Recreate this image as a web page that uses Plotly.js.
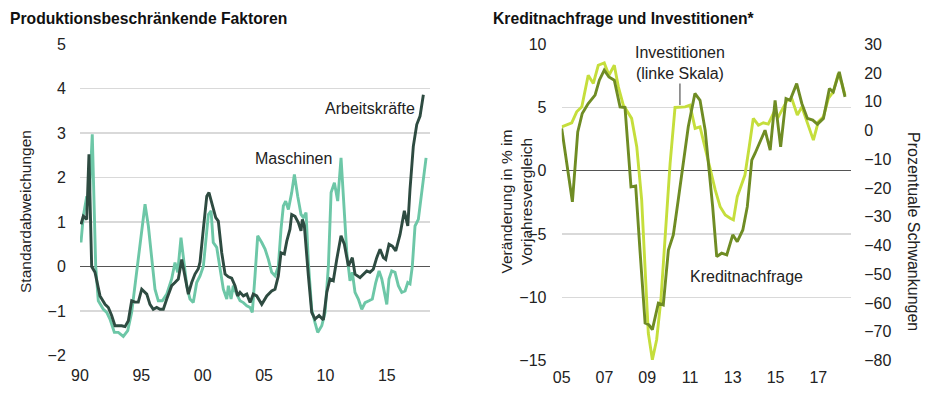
<!DOCTYPE html>
<html>
<head>
<meta charset="utf-8">
<script src="https://cdn.plot.ly/plotly-3.0.1.min.js"></script>
<style>
  html, body { margin: 0; padding: 0; background: #fff; }
  #chart { width: 940px; height: 398px; }
</style>
</head>
<body>
<div id="chart"></div>
<script>
// ---- Left panel: Produktionsbeschränkende Faktoren (Standardabweichungen) ----
const arbeitYears = [1990.08,1990.27,1990.55,1990.73,1990.95,1991.22,1991.63,1992.04,1992.31,1992.58,1992.85,1993.40,1993.67,1993.94,1994.21,1994.48,1994.75,1995.03,1995.44,1995.70,1995.97,1996.25,1996.52,1996.79,1997.07,1997.47,1997.74,1998.01,1998.29,1998.56,1998.83,1999.10,1999.37,1999.64,1999.78,2000.05,2000.33,2000.51,2000.86,2001.06,2001.27,2001.55,2001.82,2002.09,2002.36,2002.63,2002.85,2003.04,2003.31,2003.59,2003.86,2004.12,2004.40,2004.81,2005.22,2005.62,2005.89,2006.16,2006.38,2006.65,2006.85,2007.11,2007.25,2007.52,2007.79,2008.01,2008.12,2008.28,2008.61,2008.88,2009.15,2009.48,2009.83,2010.11,2010.37,2010.64,2010.92,2011.27,2011.54,2011.87,2012.19,2012.41,2012.82,2013.09,2013.37,2013.63,2013.90,2014.18,2014.45,2014.72,2014.91,2015.18,2015.45,2015.73,2016.08,2016.43,2016.71,2016.89,2017.16,2017.44,2017.71,2017.98];
const arbeitValues = [0.95,1.13,1.06,2.52,0.00,-0.13,-0.66,-0.85,-0.92,-1.10,-1.33,-1.33,-1.35,-1.22,-0.77,-0.80,-0.80,-0.51,-0.62,-0.85,-0.96,-0.92,-0.96,-0.96,-0.73,-0.43,-0.36,-0.28,0.16,-0.28,-0.62,-0.36,-0.17,-0.05,0.10,0.84,1.58,1.66,1.28,1.10,1.02,0.31,-0.17,-0.23,-0.26,-0.43,-0.66,-0.58,-0.66,-0.62,-0.81,-0.62,-0.66,-0.85,-0.66,-0.55,-0.51,-0.21,0.31,0.28,0.57,0.84,1.17,1.13,0.99,0.80,1.06,0.92,-0.21,-1.03,-1.18,-1.10,-1.20,-0.58,-0.28,-0.32,0.16,0.69,0.50,0.01,0.20,-0.17,-0.25,-0.17,-0.10,-0.13,-0.06,0.20,0.39,0.20,0.16,0.50,0.46,0.35,0.72,1.25,0.91,1.73,2.70,3.19,3.38,3.86];

const maschYears = [1990.08,1990.27,1990.55,1990.73,1991.00,1991.17,1991.28,1991.49,1991.90,1992.18,1992.44,1992.80,1993.12,1993.53,1993.89,1994.21,1994.48,1994.75,1995.03,1995.30,1995.57,1995.84,1996.11,1996.38,1996.71,1997.07,1997.47,1997.74,1997.96,1998.23,1998.42,1998.70,1998.96,1999.23,1999.51,1999.78,2000.05,2000.19,2000.46,2000.68,2000.86,2001.14,2001.41,2001.68,2001.96,2002.09,2002.31,2002.49,2002.77,2003.04,2003.31,2003.59,2003.86,2004.04,2004.26,2004.48,2004.81,2005.08,2005.35,2005.62,2005.89,2006.16,2006.38,2006.57,2006.76,2006.98,2007.25,2007.47,2007.74,2008.01,2008.20,2008.42,2008.61,2008.88,2009.15,2009.37,2009.70,2009.97,2010.24,2010.46,2010.73,2011.00,2011.27,2011.46,2011.74,2012.00,2012.19,2012.41,2012.68,2012.96,2013.23,2013.55,2013.82,2014.10,2014.37,2014.59,2014.86,2015.00,2015.18,2015.40,2015.67,2015.94,2016.22,2016.49,2016.71,2016.89,2017.08,2017.30,2017.57,2017.85,2018.20];
const maschValues = [0.54,1.13,1.58,1.36,2.97,1.06,0.00,-0.77,-0.96,-1.03,-1.18,-1.48,-1.48,-1.57,-1.44,-1.03,-0.43,0.16,0.84,1.40,0.91,0.16,-0.51,-0.77,-0.77,-0.62,-0.28,0.09,-0.13,0.65,0.20,-0.43,-0.73,-0.81,-0.36,-0.21,0.00,0.46,1.17,1.25,0.54,0.43,0.00,-0.51,-0.73,-0.43,-0.73,-0.43,-0.62,-0.77,-0.81,-0.88,-0.92,-1.03,-0.21,0.69,0.54,0.39,0.16,-0.13,-0.21,0.00,0.84,1.36,1.47,1.28,1.66,2.07,1.58,1.17,1.10,1.21,0.09,-0.96,-1.26,-1.48,-1.33,-1.03,0.01,1.66,1.88,1.47,2.44,1.51,0.31,-0.32,-0.13,-0.58,-0.73,-0.96,-0.81,-0.77,-0.73,-0.36,-0.10,-0.28,-0.66,-0.85,-0.28,-0.10,-0.13,-0.43,-0.58,-0.55,-0.36,-0.39,0.01,0.91,1.06,1.66,2.44];

const leftTickVals = [1990,1995,2000,2005,2010,2015];
const leftTickText = ["90","95","00","05","10","15"];

// ---- Right panel: Kreditnachfrage und Investitionen* ----
const investYears = [2005.00,2005.23,2005.47,2005.70,2005.94,2006.24,2006.48,2006.71,2006.99,2007.21,2007.46,2007.65,2007.88,2008.27,2008.51,2008.74,2008.90,2009.05,2009.24,2009.44,2009.64,2009.83,2010.07,2010.30,2010.53,2010.77,2011.00,2011.24,2011.47,2011.71,2011.94,2012.18,2012.41,2012.65,2012.88,2013.03,2013.21,2013.42,2013.57,2013.77,2013.96,2014.20,2014.43,2014.66,2014.90,2015.13,2015.36,2015.55,2015.76,2016.02,2016.23,2016.46,2016.77,2017.00,2017.24,2017.47,2017.70,2017.94,2018.10,2018.25];
const investValues = [3.47,3.60,3.79,4.66,5.05,7.55,6.90,8.34,8.52,7.55,8.34,6.63,5.19,4.14,1.90,-2.31,-7.58,-12.83,-14.94,-13.36,-10.20,-5.21,0.58,5.00,5.03,5.05,5.19,3.35,3.47,1.80,0.06,-1.52,-2.84,-3.50,-3.76,-3.89,-2.05,-1.00,-0.34,1.90,4.14,3.60,3.79,3.69,4.53,4.26,4.92,5.58,5.71,4.40,5.05,4.00,2.42,3.87,4.26,5.71,6.24,7.69,6.90,5.97];

const kreditYears = [2005.00,2005.23,2005.50,2005.75,2005.96,2006.24,2006.56,2006.76,2006.99,2007.21,2007.46,2007.73,2007.96,2008.24,2008.46,2008.66,2008.90,2009.08,2009.24,2009.52,2009.75,2009.99,2010.22,2010.45,2010.69,2010.92,2011.23,2011.47,2011.71,2011.86,2012.06,2012.25,2012.48,2012.72,2013.00,2013.21,2013.47,2013.68,2013.89,2014.04,2014.28,2014.51,2014.75,2014.98,2015.24,2015.49,2015.68,2015.99,2016.23,2016.49,2016.74,2016.96,2017.24,2017.52,2017.70,2017.98,2018.25];
const kreditValues = [0.7,-11.4,-24.8,-0.5,5.9,9.4,12.3,17.5,21.0,18.6,17.5,8.2,8.0,-19.6,-19.3,-41.6,-67.0,-67.6,-69.3,-60.1,-60.7,-41.6,-36.3,-24.2,-12.0,1.3,12.9,10.5,0.1,-10.3,-26.5,-43.9,-42.7,-43.3,-36.3,-38.7,-34.6,-26.5,-10.3,-8.0,-3.9,0.1,-6.8,10.5,-5.7,11.1,10.5,16.3,9.4,4.2,3.6,2.2,4.2,14.6,13.4,20.4,11.7];

const rightTickVals = [2005,2007,2009,2011,2013,2015,2017];
const rightTickText = ["05","07","09","11","13","15","17"];

const FONT = "Liberation Sans, Arial, Helvetica, sans-serif";
const TXT = "#222";
const GRID = "#d9d9d9";

const traces = [
  { x: maschYears, y: maschValues, type: "scatter", mode: "lines", name: "Maschinen",
    line: { color: "#6dc7a7", width: 2.9 }, xaxis: "x", yaxis: "y" },
  { x: arbeitYears, y: arbeitValues, type: "scatter", mode: "lines", name: "Arbeitskräfte",
    line: { color: "#2e4b41", width: 2.9 }, xaxis: "x", yaxis: "y" },
  { x: investYears, y: investValues, type: "scatter", mode: "lines", name: "Investitionen",
    line: { color: "#c5de3c", width: 2.9 }, xaxis: "x2", yaxis: "y2" },
  { x: kreditYears, y: kreditValues, type: "scatter", mode: "lines", name: "Kreditnachfrage",
    line: { color: "#6f8c24", width: 2.9 }, xaxis: "x2", yaxis: "y3" }
];

const tickFont = { family: FONT, size: 16, color: TXT };

const layout = {
  width: 940, height: 398,
  margin: { l: 0, r: 0, t: 0, b: 0 },
  paper_bgcolor: "#fff", plot_bgcolor: "#fff",
  showlegend: false,
  font: { family: FONT, color: TXT },
  xaxis: {
    domain: [80/940, 430/940], range: [1990, 2018.52],
    tickvals: leftTickVals, ticktext: leftTickText,
    showgrid: false, zeroline: false, showline: false,
    ticks: "outside", ticklen: 5, tickcolor: "rgba(0,0,0,0)",
    tickfont: tickFont, anchor: "y"
  },
  yaxis: {
    domain: [42/398, 354.5/398], range: [-2.01, 5.01],
    tickvals: [-2,-1,0,1,2,3,4,5],
    showgrid: true, gridcolor: GRID, gridwidth: 1.2,
    zeroline: true, zerolinecolor: "#555", zerolinewidth: 1.5,
    showline: false, ticks: "outside", ticklen: 10, tickcolor: "rgba(0,0,0,0)",
    tickfont: tickFont, anchor: "x"
  },
  xaxis2: {
    domain: [561.7/940, 851/940], range: [2005, 2018.53],
    tickvals: rightTickVals, ticktext: rightTickText,
    showgrid: false, zeroline: false, showline: false,
    ticks: "outside", ticklen: 2, tickcolor: "rgba(0,0,0,0)",
    tickfont: tickFont, anchor: "y2"
  },
  yaxis2: {
    domain: [37.3/398, 354/398], range: [-15.02, 10.02],
    tickvals: [-15,-10,-5,0,5,10],
    showgrid: true, gridcolor: GRID, gridwidth: 1.2,
    zeroline: true, zerolinecolor: "#555", zerolinewidth: 1.5,
    showline: false, ticks: "outside", ticklen: 11, tickcolor: "rgba(0,0,0,0)",
    tickfont: tickFont, anchor: "x2"
  },
  yaxis3: {
    overlaying: "y2", side: "right", anchor: "x2",
    range: [-80.09, 30.09], tickvals: [-80,-70,-60,-50,-40,-30,-20,-10,0,10,20,30],
    showgrid: false, zeroline: false, showline: false,
    ticks: "outside", ticklen: 9, tickcolor: "rgba(0,0,0,0)",
    tickfont: tickFont
  },
  annotations: [
    { xref: "paper", yref: "paper", x: 8/940, y: 1 - 18.5/398, xanchor: "left", yanchor: "middle",
      text: "<b>Produktionsbeschränkende Faktoren</b>", showarrow: false,
      font: { family: FONT, size: 15.7, color: "#111" } },
    { xref: "paper", yref: "paper", x: 491/940, y: 1 - 18.5/398, xanchor: "left", yanchor: "middle",
      text: "<b>Kreditnachfrage und Investitionen*</b>", showarrow: false,
      font: { family: FONT, size: 15.7, color: "#111" } },
    { xref: "paper", yref: "paper", x: 25/940, y: 1 - 212/398, xanchor: "center", yanchor: "middle",
      text: "Standardabweichungen", textangle: -90, showarrow: false,
      font: { family: FONT, size: 15.5, color: TXT } },
    { xref: "paper", yref: "paper", x: 515.5/940, y: 1 - 202/398, xanchor: "center", yanchor: "middle",
      text: "Veränderung in % im<br>Vorjahresvergleich", textangle: -90, showarrow: false,
      font: { family: FONT, size: 15.5, color: TXT } },
    { xref: "paper", yref: "paper", x: 914/940, y: 1 - 231/398, xanchor: "center", yanchor: "middle",
      text: "Prozentuale Schwankungen", textangle: 90, showarrow: false,
      font: { family: FONT, size: 16, color: TXT } },
    { xref: "paper", yref: "paper", x: 370/940, y: 1 - 108/398, xanchor: "center", yanchor: "middle",
      text: "Arbeitskräfte", showarrow: false,
      font: { family: FONT, size: 16, color: TXT } },
    { xref: "paper", yref: "paper", x: 293.5/940, y: 1 - 158/398, xanchor: "center", yanchor: "middle",
      text: "Maschinen", showarrow: false,
      font: { family: FONT, size: 16, color: TXT } },
    { xref: "paper", yref: "paper", x: 746/940, y: 1 - 276/398, xanchor: "center", yanchor: "middle",
      text: "Kreditnachfrage", showarrow: false,
      font: { family: FONT, size: 16, color: TXT } },
    { xref: "x2", yref: "y2", x: 2010.53, y: 5.2, ax: 0, ay: -42,
      text: "Investitionen<br>(linke Skala)", showarrow: true, arrowhead: 0, arrowwidth: 1.2,
      arrowcolor: "#555", standoff: 0,
      font: { family: FONT, size: 16, color: TXT } }
  ]
};

Plotly.newPlot("chart", traces, layout, { staticPlot: true, displayModeBar: false });
</script>
</body>
</html>
